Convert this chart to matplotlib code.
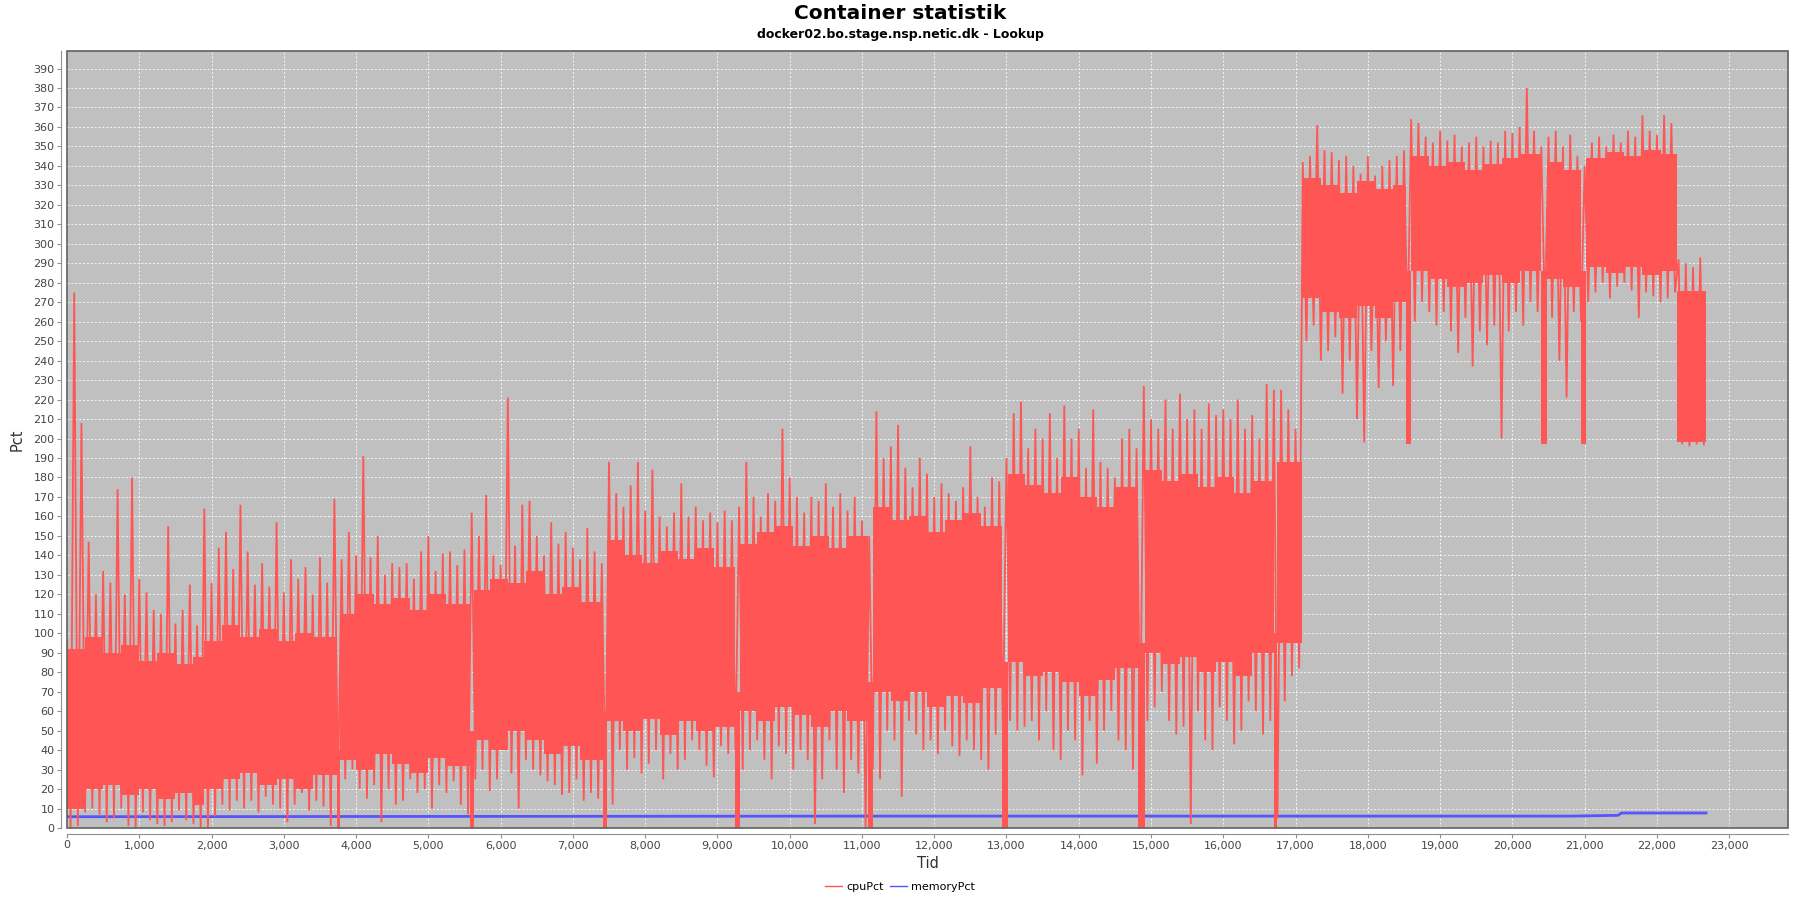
import matplotlib
matplotlib.use("Agg")
import matplotlib.pyplot as plt
import matplotlib.ticker as mticker
from matplotlib.patches import Rectangle
import numpy as np

# cpuPct: one peak and one trough per 100-step bin
bin_width = 100
last_t = 22680
cpu_hi = [
    96, 275, 208, 147, 120, 132, 126, 174, 120, 180,
    128, 121, 112, 110, 155, 105, 112, 125, 104, 164,
    126, 144, 152, 133, 166, 142, 125, 136, 124, 157,
    121, 138, 128, 134, 120, 139, 126, 169, 138, 152,
    140, 191, 139, 150, 130, 136, 134, 136, 128, 142,
    150, 132, 141, 142, 135, 143, 162, 150, 171, 140,
    135, 221, 145, 166, 168, 150, 140, 157, 146, 152,
    144, 138, 154, 142, 136, 188, 172, 165, 176, 188,
    163, 184, 160, 155, 162, 177, 160, 165, 158, 162,
    157, 163, 158, 165, 188, 170, 160, 172, 168, 205,
    180, 170, 162, 170, 168, 177, 165, 172, 163, 170,
    158, 150, 214, 190, 196, 207, 185, 175, 190, 182,
    170, 177, 172, 168, 175, 196, 170, 165, 180, 178,
    190, 213, 219, 195, 205, 200, 213, 190, 217, 200,
    205, 185, 215, 188, 185, 180, 200, 205, 195, 227,
    210, 205, 220, 205, 223, 210, 215, 205, 218, 212,
    215, 210, 220, 205, 212, 200, 228, 225, 225, 215,
    205, 342, 345, 361, 348, 347, 343, 345, 340, 336,
    345, 335, 340, 343, 345, 348, 364, 362, 355, 352,
    358, 353, 356, 350, 352, 355, 350, 353, 352, 358,
    357, 360, 380, 358, 350, 355, 358, 350, 356, 345,
    340, 352, 355, 350, 356, 352, 358, 355, 366, 358,
    356, 366, 362, 292, 290, 288, 293,
]
cpu_lo = [
    0, 1, 8, 10, 7, 3, 5, 10, 1, 0,
    8, 4, 2, 1, 3, 9, 4, 2, 0, 0,
    6, 12, 9, 14, 10, 14, 8, 16, 12, 10,
    3, 12, 18, 9, 14, 11, 1, 20, 25, 30,
    20, 15, 22, 3, 20, 12, 14, 25, 18, 20,
    10, 22, 18, 24, 12, 7, 25, 30, 19, 25,
    40, 28, 10, 35, 30, 27, 24, 22, 17, 18,
    25, 14, 18, 15, 20, 12, 40, 30, 36, 28,
    33, 40, 25, 38, 30, 35, 45, 40, 32, 26,
    42, 38, 40, 30, 40, 45, 35, 25, 42, 38,
    30, 40, 35, 2, 25, 45, 30, 18, 35, 28,
    0, 30, 25, 50, 45, 16, 55, 48, 40, 45,
    38, 50, 42, 37, 45, 40, 35, 30, 48, 50,
    55, 50, 52, 55, 45, 60, 40, 35, 50, 45,
    27, 55, 33, 50, 60, 45, 40, 30, 45, 55,
    62, 70, 55, 48, 52, 2, 60, 45, 40, 62,
    55, 43, 50, 65, 60, 48, 55, 5, 65, 78,
    82, 250, 258, 240, 245, 252, 223, 240, 210, 198,
    245, 226, 250, 227, 245, 255, 260, 270, 265, 258,
    265, 255, 244, 262, 237, 255, 248, 258, 200, 255,
    265, 258, 270, 265, 262, 262, 240, 221, 265, 260,
    270, 275, 280, 272, 278, 280, 276, 262, 275, 273,
    270, 272, 275, 197, 196, 197, 197,
]

# solid core of the band (None = gap at a restart dip)
core_t = [0, 250, 500, 750, 1000, 1250, 1500, 1750, 1900, 2150, 2400, 2650, 2900, 3150, 3400,
          3735, 3780, 4000, 4250, 4500, 4750, 5000, 5250,
          5570, 5630, 5850, 6100, 6350, 6600, 6850, 7100,
          7410, 7470, 7700, 7950, 8200, 8450, 8700, 8950,
          9245, 9310, 9550, 9800, 10050, 10300, 10550, 10800,
          11088, 11150, 11400, 11650, 11900, 12150, 12400, 12650,
          12940, 13025, 13250, 13500, 13750, 14000, 14250, 14500,
          14820, 14910, 15150, 15400, 15650, 15900, 16150, 16400,
          16697, 16747,
          17090, 17350, 17600, 17850, 18100, 18350,
          18533, 18603, 18850, 19100, 19350, 19600, 19850, 20100,
          20400, 20475, 20700,
          20954, 21019, 21300, 21550, 21800, 22050,
          22272, 22680]
core_lo = [10, 20, 22, 17, 20, 15, 18, 12, 20, 25, 28, 22, 25, 20, 27,
           None, 35, 30, 38, 33, 28, 36, 32,
           None, 45, 40, 50, 45, 38, 42, 35,
           None, 55, 50, 56, 48, 55, 50, 52,
           None, 60, 55, 62, 58, 52, 60, 55,
           None, 70, 65, 70, 62, 68, 64, 72,
           None, 85, 78, 80, 75, 68, 76, 82,
           None, 90, 84, 88, 80, 85, 78, 90,
           None, 95,
           272, 265, 262, 268, 262, 270,
           None, 286, 282, 278, 280, 284, 280, 286,
           None, 282, 278,
           None, 288, 285, 288, 284, 286,
           198]
core_hi = [92, 98, 90, 94, 86, 90, 84, 88, 96, 104, 98, 102, 96, 100, 98,
           None, 110, 120, 115, 118, 112, 120, 115,
           None, 122, 128, 126, 132, 120, 124, 116,
           None, 148, 140, 136, 142, 138, 144, 134,
           None, 146, 152, 155, 145, 150, 144, 150,
           None, 165, 158, 160, 152, 158, 162, 155,
           None, 182, 176, 172, 180, 170, 165, 175,
           None, 184, 178, 182, 175, 180, 172, 178,
           None, 188,
           334, 330, 326, 332, 328, 330,
           None, 345, 340, 342, 338, 341, 344, 346,
           None, 342, 338,
           None, 344, 347, 345, 348, 346,
           276]

# restart dips
dip_center = [3758, 5600, 7441, 9277, 11118, 12982, 14865, 16722, 18568, 20437, 20986]
dip_width = [45, 55, 60, 65, 60, 85, 90, 50, 70, 75, 65]
dip_low = [0, 0, 0, 0, 0, 0, 0, 0, 197, 197, 197]
dip_top = [40, 50, 60, 70, 75, 85, 95, 100, 286, 286, 286]

# memoryPct
mem_t = [0, 11000, 20800, 21460, 21510, 22680]
mem_v = [5.8, 6.1, 6.1, 6.5, 7.7, 7.7]

RED = "#FF5555"
BLUE = "#5555FF"

fig = plt.figure(figsize=(18, 9), dpi=100)
ax = fig.add_axes([67 / 1800, 72 / 900, 1721 / 1800, 777 / 900])
ax.set_facecolor("#C0C0C0")

# zigzag through peaks and troughs
n = len(cpu_hi)
xs = np.empty(2 * n)
ys = np.empty(2 * n)
xs[0::2] = np.arange(n) * bin_width
xs[1::2] = np.arange(n) * bin_width + bin_width / 2
ys[0::2] = cpu_hi
ys[1::2] = cpu_lo
xs = np.minimum(xs, last_t)

ax.plot(mem_t, mem_v, color=BLUE, lw=2, zorder=3)

for k in range(len(core_lo)):
    if core_lo[k] is None:
        continue
    s, e = core_t[k], core_t[k + 1]
    ax.fill_between([s, e], [core_lo[k]] * 2, [core_hi[k]] * 2,
                    color=RED, lw=0, zorder=4)
ax.bar(dip_center, np.array(dip_top) - np.array(dip_low), width=dip_width,
       bottom=dip_low, color=RED, lw=0, zorder=4)
ax.plot(xs, ys, color=RED, lw=1.3, zorder=4, solid_joinstyle="miter")

ax.set_xlim(0, last_t * 1.05)
ax.set_ylim(0, 399)
ax.xaxis.set_major_locator(mticker.MultipleLocator(1000))
ax.yaxis.set_major_locator(mticker.MultipleLocator(10))
ax.xaxis.set_major_formatter(mticker.FuncFormatter(lambda v, p: f"{int(v):,}"))
ax.grid(True, color="white", linestyle=(0, (2, 2)), lw=0.7, alpha=0.85)
ax.set_axisbelow(True)

for side in ["top", "right"]:
    ax.spines[side].set_visible(False)
for side in ["left", "bottom"]:
    ax.spines[side].set_position(("outward", 4))
    ax.spines[side].set_color("#909090")
ax.add_patch(Rectangle((0, 0), 1, 1, transform=ax.transAxes, fill=False,
                       edgecolor="#606060", lw=1.2, zorder=6, clip_on=False))
ax.tick_params(direction="out", length=3, color="#909090", labelsize=8,
               labelcolor="#444444", pad=2)

ax.set_xlabel("Tid", fontsize=10.5, color="#333333", labelpad=4)
ax.set_ylabel("Pct", fontsize=10.5, color="#333333", labelpad=6)

fig.text(0.5, 0.985, "Container statistik", ha="center", va="center",
         fontsize=14.5, fontweight="bold")
fig.text(0.5, 0.962, "docker02.bo.stage.nsp.netic.dk - Lookup", ha="center",
         va="center", fontsize=9, fontweight="bold")

handles = [plt.Line2D([], [], color=RED, lw=1), plt.Line2D([], [], color=BLUE, lw=1)]
fig.legend(handles, ["cpuPct", "memoryPct"], loc="center", bbox_to_anchor=(0.5, 0.015),
           ncol=2, frameon=False, fontsize=8, handlelength=1.5, handletextpad=0.4,
           columnspacing=0.6)

fig.savefig("out.png", dpi=100)
